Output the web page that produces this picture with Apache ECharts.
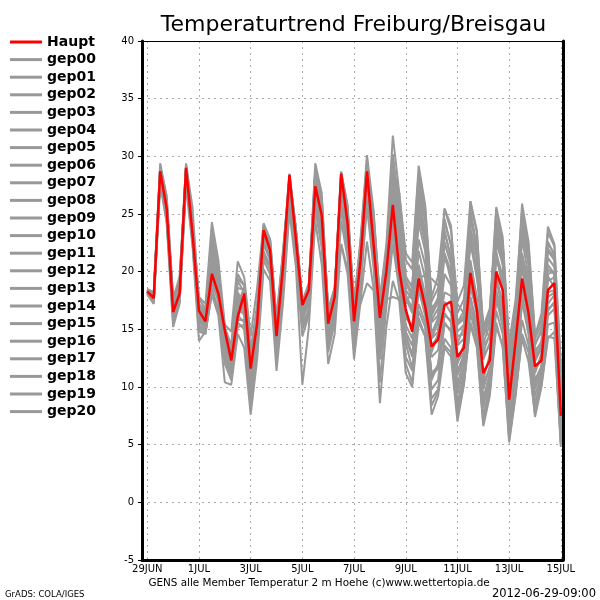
<!DOCTYPE html>
<html>
<head>
<meta charset="utf-8">
<script src="https://cdn.jsdelivr.net/npm/echarts@6/dist/echarts.min.js"></script>
<style>html,body{margin:0;padding:0;background:#fff;}#c{width:600px;height:600px;}</style>
</head>
<body>
<div id="c"></div>
<script>
// forecast hours from 29JUN 00Z
const hours = [0,6,12,18,24,30,36,42,48,54,60,66,72,78,84,90,96,102,108,114,120,126,132,138,144,150,156,162,168,174,180,186,192,198,204,210,216,222,228,234,240,246,252,258,264,270,276,282,288,294,300,306,312,318,324,330,336,342,348,354,360,366,372,378,384];
const tickHours = [0,48,96,144,192,240,288,336,384];
const tickLabels = ['29JUN','1JUL','3JUL','5JUL','7JUL','9JUL','11JUL','13JUL','15JUL'];

const haupt = [18.3,17.7,28.7,25.5, 16.5,18.1,29.0,23.3, 16.6,15.7,19.8,18.1, 14.9,12.3,16.1,18.1,
  11.6,15.5,23.6,21.9, 14.4,20.4,28.4,22.8, 17.1,18.4,27.4,24.9, 15.5,17.8,28.5,24.2,
  15.7,21.0,28.7,22.5, 16.0,20.0,25.8,20.1, 16.7,14.8,19.4,17.0, 13.5,14.1,17.1,17.4,
  12.6,13.4,19.9,16.7, 11.2,12.3,20.0,18.4, 8.9,14.0,19.4,16.4, 11.8,12.3,18.4,19.0, 7.5];

const gep00 = [18.3,17.6,28.9,25.8, 16.8,18.3,29.2,23.8, 16.4,15.9,20.5,18.6, 14.5,12.6,16.8,17.6, 11.2,15.0,23.2,21.5, 14.8,20.0,28.0,22.4, 16.8,18.0,27.9,25.3, 15.2,17.4,28.1,23.8, 15.9,20.6,28.3,22.9, 16.4,19.6,26.4,20.8, 16.0,15.2,20.6,18.0, 13.0,14.6,18.2,17.9, 12.0,13.8,21.0,17.5, 10.6,12.8,21.2,19.0, 9.6,13.5,20.4,17.0, 11.2,12.9,19.2,19.5, 8.0];
const gep01 = [18.2,17.9,28.2,25.0, 17.2,18.6,28.5,24.6, 15.8,15.2,21.4,19.2, 13.6,11.4,17.9,16.8, 10.4,14.2,22.6,21.0, 13.6,19.6,27.6,23.2, 16.2,17.6,28.6,26.0, 14.8,16.6,27.8,23.2, 14.6,20.2,29.4,24.8, 17.2,21.0,28.6,23.6, 18.4,17.6,24.8,22.6, 15.8,16.8,22.4,20.8, 15.4,15.9,23.8,21.2, 13.6,14.4,22.8,20.6, 11.8,14.8,21.6,18.6, 12.4,13.6,20.6,19.8, 9.4];
const gep02 = [18.4,18.1,29.4,26.4, 17.8,19.2,29.3,25.6, 17.2,16.6,23.2,20.4, 14.2,12.9,18.6,18.4, 12.6,15.8,24.0,22.4, 15.2,21.2,28.3,23.6, 17.4,18.8,29.4,26.8, 16.4,18.4,28.7,25.6, 17.2,22.8,30.1,25.4, 17.6,22.4,31.8,26.8, 21.6,20.8,29.2,25.8, 17.8,19.6,25.4,23.6, 17.4,18.8,26.1,23.4, 15.2,16.8,24.2,22.4, 13.4,16.8,25.9,22.6, 14.6,15.8,23.4,22.2, 11.4];
const gep03 = [18.1,17.4,28.0,24.6, 16.0,17.4,28.2,22.6, 15.0,14.6,18.2,16.8, 12.0,10.6,15.2,15.4, 9.0,13.2,21.4,20.2, 12.2,18.2,26.4,21.4, 15.0,16.4,26.2,22.8, 13.0,15.6,25.6,21.6, 13.4,18.4,26.8,21.4, 14.2,17.6,24.2,19.4, 14.6,12.8,18.4,16.2, 11.2,11.8,16.4,15.6, 9.8,11.6,17.8,15.0, 8.6,10.4,17.6,15.8, 6.8,10.8,17.4,14.6, 8.6,10.6,16.2,16.8, 6.2];
const gep04 = [18.3,17.8,28.6,25.2, 16.6,18.0,28.8,23.6, 16.0,15.6,19.4,17.8, 14.6,12.2,16.4,17.2, 11.8,15.6,23.4,22.0, 14.6,20.4,27.8,22.8, 16.8,18.2,25.8,22.4, 16.2,17.2,22.4,20.2, 16.8,17.2,19.0,18.4, 17.0,17.6,17.8,17.6, 17.2,18.4,19.6,19.6, 19.4,18.8,21.2,19.8, 17.2,16.4,22.6,19.4, 15.6,14.2,21.8,18.4, 12.6,13.4,20.8,17.4, 13.2,13.8,19.6,18.6, 9.6];
const gep05 = [18.0,17.2,27.6,24.2, 15.2,17.2,27.4,22.2, 14.0,14.8,18.0,16.2, 10.4,10.2,14.6,13.4, 7.6,12.4,20.2,19.2, 11.4,17.2,25.2,20.4, 10.2,15.2,24.4,20.6, 12.0,14.6,22.4,19.8, 12.4,17.4,22.6,18.6, 8.6,15.2,19.2,17.4, 11.2,10.0,15.6,14.4, 7.6,9.2,13.4,12.6, 7.0,10.2,15.4,13.4, 6.6,9.2,15.2,13.6, 5.4,9.4,14.2,12.2, 7.6,10.2,14.4,14.2, 5.0];
const gep06 = [18.4,17.9,29.0,26.0, 17.4,19.0,29.4,24.8, 17.6,16.8,22.6,19.8, 15.2,13.6,19.4,18.8, 13.2,16.6,23.8,22.8, 15.8,21.4,28.5,23.8, 17.2,18.8,28.8,26.4, 16.8,18.6,27.2,24.6, 17.4,22.2,27.8,24.2, 16.6,20.6,29.6,25.2, 19.4,18.8,27.2,24.4, 16.4,17.8,24.2,22.4, 15.4,16.2,25.4,22.2, 13.8,15.4,23.8,21.4, 12.2,15.8,24.8,21.8, 13.8,14.8,22.6,21.4, 10.8];
const gep07 = [18.2,17.5,28.4,25.4, 16.2,17.8,28.6,23.0, 15.6,15.2,19.0,17.6, 13.8,11.8,16.0,17.8, 11.6,15.2,22.8,21.2, 14.0,19.8,27.4,22.2, 16.6,17.8,27.0,24.2, 15.4,17.0,28.2,24.0, 15.2,20.8,28.6,22.2, 15.6,19.4,25.2,19.6, 15.4,14.2,20.0,17.4, 12.6,13.2,17.4,16.4, 11.4,12.8,19.4,16.2, 10.2,11.6,19.6,17.2, 8.0,12.6,19.2,16.0, 10.6,11.8,17.8,18.2, 7.0];
const gep08 = [18.5,18.2,29.2,26.6, 17.6,19.6,28.4,24.2, 17.8,17.2,24.3,21.0, 15.4,14.8,20.9,19.5, 14.4,18.6,24.2,22.8, 16.0,21.8,27.8,23.4, 16.4,18.6,28.4,25.6, 16.6,18.2,28.0,25.2, 16.4,21.6,29.0,23.6, 16.8,21.4,28.2,23.8, 18.0,16.8,25.6,22.4, 14.6,16.0,23.4,21.2, 13.8,15.2,26.1,23.6, 14.4,15.8,25.4,22.6, 13.2,16.8,23.4,20.8, 14.2,15.4,21.8,21.0, 11.2];
const gep09 = [18.1,17.6,28.0,24.8, 16.4,17.6,28.0,22.8, 14.8,14.6,18.6,16.6, 12.4,11.0,15.6,15.0, 8.4,13.6,21.8,20.4, 12.8,18.8,26.8,21.6, 15.6,16.6,26.6,23.6, 14.2,16.0,26.4,22.6, 14.0,19.4,27.6,21.6, 13.2,18.2,26.4,21.2, 13.8,11.6,17.2,15.6, 9.8,10.6,15.6,14.8, 8.6,11.2,17.0,14.6, 7.4,10.2,17.8,15.2, 6.2,10.2,17.6,14.8, 8.4,10.8,16.6,17.4, 5.8];
const gep10 = [18.3,17.7,28.8,25.6, 16.8,18.4,28.8,24.0, 16.6,16.0,21.2,18.8, 13.2,11.6,17.2,16.2, 10.0,14.6,22.4,21.0, 13.4,19.6,26.8,22.0, 16.0,17.2,27.2,24.6, 15.0,17.2,26.8,23.4, 15.4,21.4,28.0,23.0, 16.2,20.4,27.4,22.4, 17.8,16.4,22.8,20.6, 14.2,14.8,21.6,20.0, 14.4,14.6,23.2,20.4, 12.8,13.6,23.8,21.4, 11.2,14.4,22.8,19.6, 12.8,13.2,21.2,20.4, 9.0];
const gep11 = [18.2,17.4,28.4,25.0, 16.0,17.6,28.4,23.4, 16.2,15.4,20.8,18.4, 14.0,12.4,17.6,16.6, 10.8,14.8,22.6,21.6, 13.8,20.2,27.2,22.6, 16.4,17.8,27.6,25.4, 15.6,17.6,27.4,24.4, 15.2,21.6,28.6,25.2, 17.4,21.2,28.8,24.6, 19.2,18.2,26.4,22.8, 15.6,16.2,21.6,19.2, 12.2,13.0,19.2,17.2, 10.4,11.4,18.2,16.6, 8.6,12.0,18.6,16.2, 9.8,11.6,17.2,18.0, 6.6];
const gep12 = [18.4,17.8,28.6,25.8, 16.6,18.2,28.8,24.6, 16.8,16.2,22.2,19.6, 14.8,13.2,18.2,17.2, 12.2,15.8,23.4,22.0, 14.6,20.8,27.6,23.2, 17.0,18.4,28.0,25.0, 16.0,18.0,28.4,24.8, 16.0,22.0,29.2,24.6, 17.8,21.6,30.2,25.6, 19.6,18.6,28.0,24.8, 16.8,17.6,24.6,22.2, 15.6,16.6,24.8,22.0, 14.6,16.2,24.6,22.0, 12.8,16.0,24.2,21.4, 13.6,15.0,22.4,21.6, 10.4];
const gep13 = [18.2,17.6,28.2,25.2, 16.2,17.8,28.0,23.2, 15.4,15.0,19.2,17.4, 12.8,11.2,15.8,15.8, 9.6,13.8,21.6,20.6, 13.0,19.0,26.6,21.4, 15.2,16.8,26.2,23.4, 14.2,16.6,25.8,22.4, 13.8,19.8,27.0,22.0, 14.6,19.0,24.6,20.2, 14.2,12.6,18.6,16.8, 11.0,11.6,15.4,15.0, 9.4,11.8,17.8,15.6, 8.2,10.8,18.4,16.0, 7.2,11.4,18.0,15.2, 9.2,11.2,16.8,17.2, 5.6];
const gep14 = [18.4,18.0,29.0,26.2, 17.2,18.8,29.0,24.4, 16.8,16.4,22.8,20.2, 14.6,13.0,19.8,18.8, 13.0,17.2,24.0,22.6, 15.4,21.0,28.2,23.6, 17.4,18.6,29.0,26.2, 16.6,18.4,28.6,25.8, 16.8,22.4,29.8,24.0, 16.8,21.8,29.0,26.8, 21.0,20.2,28.6,25.6, 17.4,18.6,23.6,21.2, 14.8,15.4,22.4,20.2, 13.0,14.6,22.4,20.8, 11.4,14.6,21.4,19.2, 12.2,13.4,20.2,19.8, 8.8];
const gep15 = [18.2,17.5,28.4,25.4, 16.4,18.0,28.4,23.8, 15.8,15.4,20.2,18.0, 13.4,12.0,16.6,16.4, 10.6,14.4,22.4,21.2, 13.6,19.4,27.0,22.2, 15.8,17.4,27.6,24.0, 14.6,17.0,26.6,22.8, 14.4,20.0,27.4,21.8, 10.4,17.0,22.4,18.4, 12.6,11.4,16.6,15.2, 8.4,9.6,14.2,13.4, 8.0,10.6,16.4,14.2, 7.0,9.6,16.6,14.6, 5.8,9.8,15.8,13.6, 8.0,10.4,15.4,15.6, 5.2];
const gep16 = [18.3,17.8,28.8,25.6, 17.0,18.6,29.0,24.2, 16.2,15.8,21.8,19.2, 14.2,12.8,18.0,17.0, 11.8,15.6,23.0,21.8, 14.2,20.6,27.8,23.0, 16.8,18.4,28.6,25.8, 16.2,18.2,28.6,25.2, 16.6,21.8,28.4,23.4, 15.8,20.8,27.8,23.4, 17.6,16.6,24.2,21.8, 14.2,15.6,22.6,20.6, 13.6,14.2,23.6,21.8, 12.4,13.8,23.2,21.0, 10.6,15.2,23.6,20.6, 12.8,14.0,22.0,21.2, 9.8];
const gep17 = [18.1,17.3,27.8,24.4, 15.6,17.4,27.8,22.6, 15.2,14.8,18.4,16.8, 12.6,11.4,16.2,15.6, 9.2,13.4,21.0,19.8, 12.4,18.4,25.8,21.0, 14.4,16.2,25.4,22.0, 13.6,15.8,24.4,21.2, 13.2,18.8,25.6,20.4, 12.4,17.4,23.4,18.8, 12.0,10.4,16.0,14.4, 9.0,9.8,13.6,13.0, 7.6,10.2,15.6,13.8, 6.8,9.6,15.6,13.4, 5.2,9.2,14.6,13.0, 7.4,10.0,14.2,14.8, 4.8];
const gep18 = [18.3,17.6,28.4,25.2, 16.4,18.2,28.6,23.4, 16.0,15.6,20.4,18.4, 14.4,12.4,17.2,18.6, 12.4,16.4,23.6,22.2, 15.0,20.6,28.0,23.4, 17.0,18.6,27.8,25.2, 15.8,17.8,28.0,24.0, 15.4,21.2,28.2,22.6, 15.2,20.2,26.8,21.8, 16.2,15.2,21.8,19.4, 13.6,14.4,19.8,18.8, 11.0,12.6,20.8,17.8, 9.8,11.8,21.6,19.6, 9.2,13.2,21.4,18.2, 11.4,12.6,19.8,20.0, 7.8];
const gep19 = [18.4,17.9,28.9,26.0, 17.4,18.8,29.1,24.4, 17.0,16.4,23.6,20.0, 15.0,13.6,19.2,18.2, 13.0,16.8,24.0,22.8, 15.6,21.6,28.3,23.8, 17.4,19.0,28.2,25.6, 16.4,18.6,28.0,25.0, 17.0,22.6,28.8,24.0, 17.0,21.4,28.6,25.0, 19.0,17.8,26.8,23.4, 16.2,17.4,25.5,24.0, 16.4,17.6,24.4,22.4, 15.0,16.4,25.6,23.0, 13.8,17.6,25.2,22.2, 14.4,16.4,23.9,22.4, 12.0];
const gep20 = [18.2,17.7,28.6,25.4, 16.8,18.2,28.8,23.4, 16.4,15.8,21.6,19.0, 14.0,12.8,17.4,16.6, 11.0,15.0,22.8,21.4, 14.2,20.2,27.6,22.8, 16.6,18.0,28.2,25.0, 15.8,17.4,27.6,23.8, 15.6,20.8,27.8,22.8, 14.6,19.6,25.6,20.4, 14.8,13.6,19.2,17.2, 10.6,12.0,16.2,15.8, 10.2,12.4,18.6,16.6, 9.0,11.2,19.2,16.8, 7.6,11.8,19.2,16.2, 10.2,11.6,18.2,18.4, 6.4];

const memberNames = ['gep00','gep01','gep02','gep03','gep04','gep05','gep06','gep07','gep08','gep09','gep10','gep11','gep12','gep13','gep14','gep15','gep16','gep17','gep18','gep19','gep20'];
const members = [gep00,gep01,gep02,gep03,gep04,gep05,gep06,gep07,gep08,gep09,gep10,gep11,gep12,gep13,gep14,gep15,gep16,gep17,gep18,gep19,gep20];

const GRAY = '#999999', RED = '#ff0000';
const toPairs = arr => arr.map((v, i) => [hours[i], v]);

const series = members.map((arr, i) => ({
  name: memberNames[i], type: 'line', data: toPairs(arr),
  color: GRAY, showSymbol: false, symbol: 'none',
  lineStyle: { color: GRAY, width: 2 }, z: 2, silent: true
}));
series.push({
  name: 'Haupt', type: 'line', data: toPairs(haupt),
  color: RED, showSymbol: false, symbol: 'none',
  lineStyle: { color: RED, width: 2.5 }, z: 3, silent: true
});

const chart = echarts.init(document.getElementById('c'), null, { renderer: 'canvas' });
const dotted = { color: '#aaaaaa', width: 1, type: [2, 4] };
chart.setOption({
  animation: false,
  backgroundColor: '#ffffff',
  grid: { left: 142, right: 37, top: 41, bottom: 40, containLabel: false },
  legend: {
    data: ['Haupt'].concat(memberNames),
    orient: 'vertical', left: 5, top: 30,
    icon: 'rect', itemWidth: 32, itemHeight: 3, itemGap: 3.6,
    selectedMode: false,
    textStyle: { fontFamily: 'DejaVu Sans', fontWeight: 'bold', fontSize: 14, lineHeight: 14, color: '#000' }
  },
  xAxis: [{
    type: 'value', min: -4.9, max: 386, position: 'bottom',
    axisLine: { show: true, onZero: false, lineStyle: { color: '#000', width: 3 } },
    axisTick: { show: false, customValues: tickHours },
    axisLabel: {
      customValues: tickHours, margin: 4,
      formatter: v => tickLabels[tickHours.indexOf(Math.round(v))] || '',
      fontFamily: 'DejaVu Sans', fontSize: 10, color: '#000'
    },
    splitLine: { show: true, lineStyle: dotted }
  }, {
    type: 'value', min: -4.9, max: 386, position: 'top',
    axisLine: { show: true, onZero: false, lineStyle: { color: '#000', width: 1 } },
    axisTick: { show: false }, axisLabel: { show: false }, splitLine: { show: false }
  }],
  yAxis: [{
    type: 'value', min: -5, max: 40, interval: 5, position: 'left',
    axisLine: { show: true, onZero: false, lineStyle: { color: '#000', width: 3 } },
    axisTick: { show: true, length: 4, lineStyle: { color: '#000', width: 1 } },
    axisLabel: { margin: 8, fontFamily: 'DejaVu Sans', fontSize: 10, color: '#000' },
    splitLine: { show: true, lineStyle: dotted }
  }, {
    type: 'value', min: -5, max: 40, interval: 5, position: 'right',
    axisLine: { show: true, onZero: false, lineStyle: { color: '#000', width: 3 } },
    axisTick: { show: false }, axisLabel: { show: false }, splitLine: { show: false }
  }],
  graphic: [
    { type: 'text', x: 353.5, y: 25, style: { text: 'Temperaturtrend Freiburg/Breisgau', fill: '#000', font: '22px "DejaVu Sans"', textAlign: 'center', textVerticalAlign: 'middle' } },
    { type: 'text', x: 319, y: 583, style: { text: 'GENS alle Member Temperatur 2 m Hoehe (c)www.wettertopia.de', fill: '#000', font: '10.4px "DejaVu Sans"', textAlign: 'center', textVerticalAlign: 'middle' } },
    { type: 'text', x: 5, y: 595, style: { text: 'GrADS: COLA/IGES', fill: '#000', font: '8.5px "DejaVu Sans"', textAlign: 'left', textVerticalAlign: 'middle' } },
    { type: 'text', x: 596, y: 594, style: { text: '2012-06-29-09:00', fill: '#000', font: '11.5px "DejaVu Sans"', textAlign: 'right', textVerticalAlign: 'middle' } }
  ],
  series: series
});
</script>
</body>
</html>
